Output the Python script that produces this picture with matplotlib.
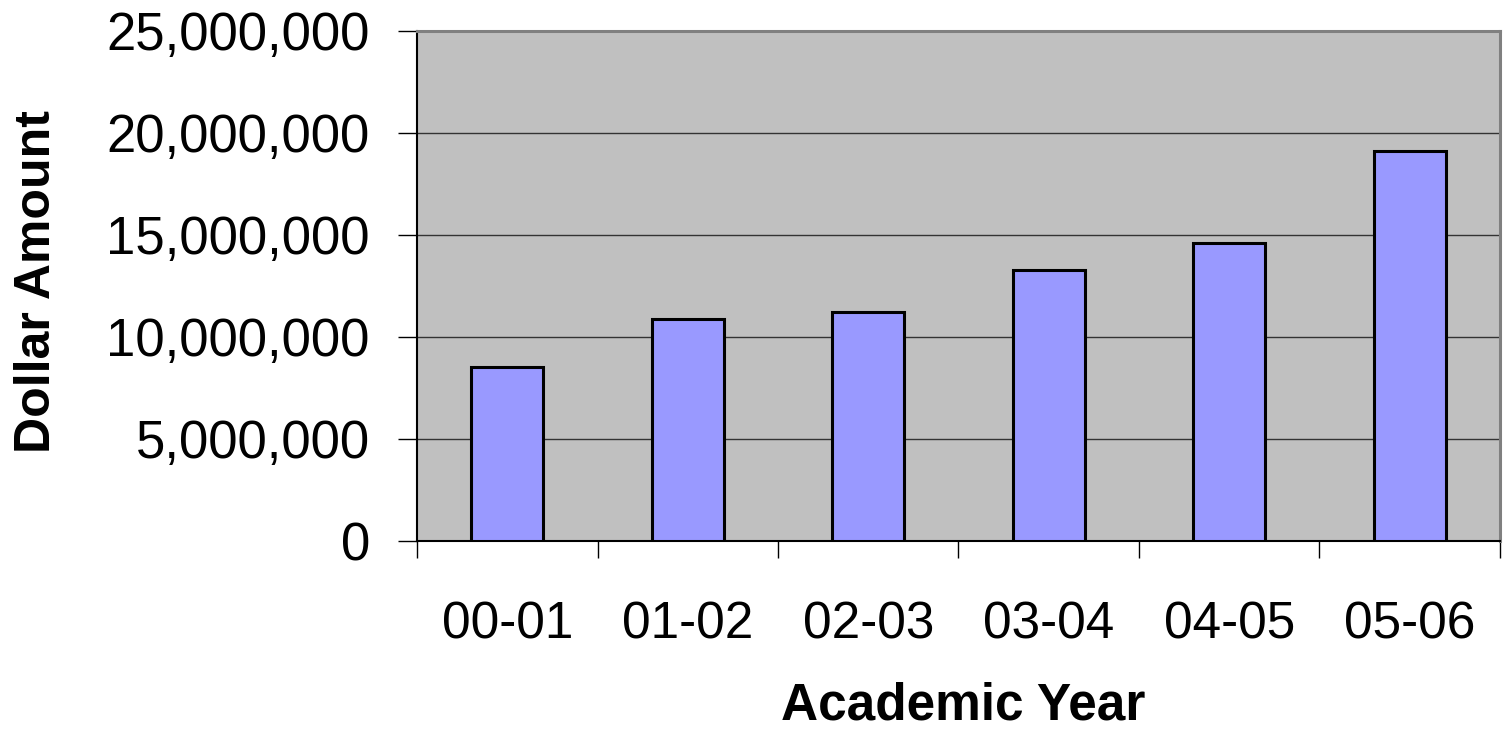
import matplotlib
matplotlib.use("Agg")
import matplotlib.pyplot as plt
from matplotlib.ticker import FuncFormatter

plt.rcParams['font.family'] = ['Liberation Sans', 'DejaVu Sans']

years = ["00-01", "01-02", "02-03", "03-04", "04-05", "05-06"]
amounts = [8530000, 10880000, 11230000, 13280000, 14600000, 19120000]
y_ticks = [0, 5000000, 10000000, 15000000, 20000000, 25000000]

fig = plt.figure(figsize=(15.04, 7.41), dpi=100)
ax = fig.add_axes([0.2773, 0.2699, 0.72, 0.6883])
ax.set_facecolor("#C0C0C0")

x = list(range(len(years)))
ax.bar(x, amounts, width=0.4, color="#9999FF", edgecolor="black", linewidth=2.2, zorder=3)

ax.set_ylim(0, 25000000)
ax.set_xlim(-0.5, len(years) - 0.5)
ax.set_yticks(y_ticks)
ax.yaxis.set_major_formatter(FuncFormatter(lambda v, p: "{:,.0f}".format(v)))
ax.grid(axis="y", color="#333333", linewidth=1.0, zorder=1)

# category ticks sit on the boundaries, labels in the middle
ax.set_xticks([i - 0.5 for i in range(len(years) + 1)])
ax.set_xticklabels([])
ax.set_xticks(x, minor=True)
ax.set_xticklabels(years, minor=True)
ax.tick_params(axis="x", which="major", direction="out", length=12, width=1, color="black")
ax.tick_params(axis="x", which="minor", length=0, labelsize=37, pad=43)
ax.tick_params(axis="y", direction="out", length=14, width=1, labelsize=38, pad=20)

for s in ["left", "bottom"]:
    ax.spines[s].set_color("black")
    ax.spines[s].set_linewidth(1.5)
for s in ["top", "right"]:
    ax.spines[s].set_color("#808080")
    ax.spines[s].set_linewidth(2.2)

fig.text(963 / 1504, 21 / 741, "Academic Year", fontsize=37, fontweight="bold",
         ha="center", va="baseline")
fig.text(37 / 1504, 1 - 282 / 741, "Dollar Amount", fontsize=36,
         fontweight="bold", rotation=90, ha="center", va="center")

fig.savefig("out.png", dpi=100)
